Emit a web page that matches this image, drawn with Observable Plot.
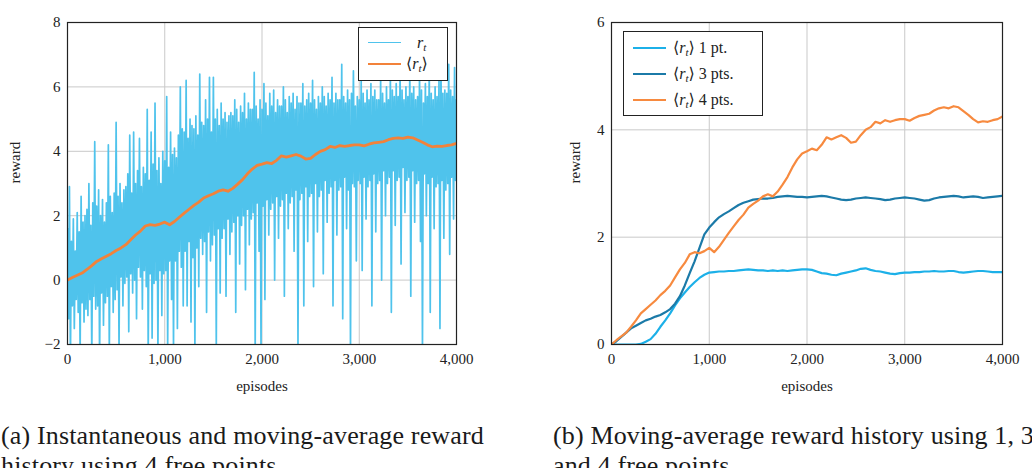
<!DOCTYPE html>
<html>
<head>
<meta charset="utf-8">
<script src="https://cdn.jsdelivr.net/npm/d3@7"></script>
<script src="https://cdn.jsdelivr.net/npm/@observablehq/plot@0.6"></script>
<style>
  html, body { margin: 0; padding: 0; background: #fff; }
  body { width: 1032px; height: 468px; overflow: hidden; position: relative; font-family: "Liberation Serif", "DejaVu Serif", serif; color: #222; }
  .panel { position: absolute; top: 0; width: 516px; height: 400px; }
  .panel svg { font-family: "Liberation Serif", "DejaVu Serif", serif !important; font-size: 15px !important; color: #222; overflow: visible; }
  .panel svg text { font-family: "Liberation Serif", "DejaVu Serif", serif !important; }
  .cap { position: absolute; font-size: 26px; letter-spacing: 0.15px; line-height: 30px; white-space: nowrap; color: #1a1a1a; }
  .legend { position: absolute; border: 1.2px solid #222; background: #fff; box-sizing: border-box; }
  .legend .row { position: absolute; left: 0; height: 20px; width: 100%; }
  .legend .sw { position: absolute; height: 0; }
  .legend .lab { position: absolute; font-size: 16px; line-height: 20px; top: 0; white-space: nowrap; }
  .legend i { font-style: italic; }
  .legend sub { font-size: 11px; vertical-align: -3px; line-height: 0; font-style: italic; }
</style>
</head>
<body>
<div id="pa" class="panel" style="left:0"></div>
<div id="pb" class="panel" style="left:516px"></div>
<div class="cap" style="left:1px; top:421px">(a) Instantaneous and moving-average reward<br>history using 4 free points.</div>
<div class="cap" style="left:553px; top:421px">(b) Moving-average reward history using 1, 3,<br>and 4 free points.</div>
<script>
// ---------- data ----------
const xTicks = [0, 1000, 2000, 3000, 4000];
const yTicksA = [-2, 0, 2, 4, 6, 8];
const yTicksB = [0, 2, 4, 6];

// instantaneous reward r_t, one value every 10 episodes (0 .. 4000)
const rewardInst = [
  1.6,-1.2,2.9,-2.5,1.2,-0.8,1.9,-1.5,0.9,-0.6,
  2.1,-1.0,1.5,-2.3,2.6,-0.7,1.8,-1.3,2.0,-0.9,
  2.2,-1.1,3.0,-0.6,1.7,-2.4,2.4,-0.5,4.3,-0.9,
  2.3,-0.8,2.8,-2.5,2.0,-0.4,2.5,-1.4,1.8,-0.7,
  2.4,-0.5,4.2,-2.3,2.6,-0.2,2.1,-1.0,2.7,-0.6,
  4.9,-0.3,2.6,-2.2,3.0,0.1,2.4,-0.8,2.8,-0.1,
  2.9,0.1,3.3,-1.6,4.5,0.2,2.7,-0.4,4.6,0.0,
  3.0,-1.2,3.4,0.4,4.4,0.1,2.9,-0.9,3.5,0.3,
  3.3,-0.2,5.3,-2.4,3.1,0.2,4.6,-1.8,3.6,-0.1,
  5.5,0.0,3.4,-2.3,3.8,0.3,3.0,-1.1,4.0,0.2,
  3.7,0.3,5.7,-2.2,3.5,0.6,4.6,-0.6,3.9,-2.1,
  4.1,0.6,3.8,-1.5,4.5,0.9,6.0,0.4,4.7,-0.8,
  4.6,0.9,6.2,-0.8,4.4,1.2,5.0,-1.3,4.8,0.7,
  4.7,-2.3,5.1,1.0,4.5,-0.2,6.4,1.3,4.9,0.8,
  4.8,1.2,5.6,-1.0,5.0,1.5,6.3,0.6,4.6,1.1,
  6.3,1.4,5.0,-2.2,5.3,1.6,4.8,-0.4,5.5,1.3,
  5.0,1.6,5.2,-0.5,4.9,1.9,5.1,0.8,5.2,1.5,
  5.1,1.8,5.6,-1.0,5.3,2.0,4.9,0.5,5.4,1.7,
  5.2,2.0,5.8,-0.3,5.0,2.2,5.5,1.1,5.3,1.9,
  5.3,2.1,6.45,-2.3,5.4,2.4,5.0,0.9,5.6,-2.2,
  5.3,2.3,6.1,-0.6,5.5,2.5,5.1,1.4,5.8,2.2,
  5.4,2.4,5.9,0.0,5.2,2.6,5.6,1.3,5.4,2.3,
  5.4,2.5,6.0,-0.5,5.6,2.7,5.2,1.6,5.7,2.4,
  5.5,2.6,5.8,0.9,5.3,2.8,5.7,-2.2,5.5,2.5,
  5.5,2.7,6.1,-0.8,5.4,2.9,5.6,1.2,5.8,2.6,
  5.5,2.7,6.2,-0.2,5.6,3.0,5.3,1.5,5.7,2.6,
  5.5,2.8,6.0,0.2,5.7,3.1,5.4,1.8,5.8,2.7,
  5.6,2.9,6.3,-0.8,5.5,3.1,5.8,1.4,5.6,2.8,
  5.6,2.9,6.7,-1.2,5.7,3.2,5.5,1.6,5.9,2.8,
  5.6,-2.2,5.8,3.0,6.5,2.9,5.4,0.6,5.7,3.1,
  5.6,3.0,6.2,0.3,5.8,3.2,5.5,1.9,5.9,2.9,
  5.6,3.1,6.1,-0.8,5.7,3.3,5.9,1.5,5.6,3.0,
  5.6,3.1,6.3,0.0,5.8,3.4,5.5,2.0,6.0,3.0,
  5.6,3.2,6.4,-1.0,5.9,3.4,5.7,1.7,6.1,3.1,
  5.7,3.2,6.5,0.5,5.9,3.5,5.6,2.1,6.0,3.1,
  5.7,3.2,6.5,-0.5,5.8,3.4,6.0,1.8,5.6,3.0,
  5.7,3.1,6.4,1.2,5.9,-2.2,5.5,3.3,6.1,2.0,
  5.7,3.0,6.6,-1.0,5.8,3.2,5.6,1.6,6.0,2.9,
  5.7,3.0,6.2,-1.5,6.7,3.1,5.8,1.3,5.9,2.8,
  5.8,3.0,6.7,0.8,5.9,3.2,5.7,1.9,6.6,3.1,
  5.6
];

// moving averages, one value every 50 episodes (0 .. 4000)
const avg4pts = [
  0,0.08,0.15,0.22,0.33,0.45,0.58,0.66,0.74,0.82,
  0.92,1.0,1.1,1.25,1.4,1.52,1.68,1.72,1.7,1.74,
  1.8,1.72,1.82,1.95,2.08,2.2,2.32,2.42,2.55,2.62,
  2.68,2.76,2.8,2.76,2.85,2.98,3.12,3.3,3.45,3.56,
  3.6,3.65,3.62,3.72,3.86,3.82,3.86,3.9,3.85,3.76,
  3.78,3.9,4.0,4.05,4.15,4.12,4.18,4.15,4.18,4.2,
  4.2,4.17,4.22,4.26,4.28,4.3,4.36,4.4,4.42,4.4,
  4.44,4.42,4.35,4.28,4.2,4.14,4.16,4.15,4.18,4.2,
  4.25
];
const avg3pts = [
  0,0.06,0.14,0.22,0.3,0.35,0.4,0.45,0.48,0.52,
  0.55,0.6,0.66,0.76,0.9,1.1,1.33,1.55,1.8,2.05,
  2.18,2.28,2.37,2.43,2.48,2.54,2.6,2.64,2.67,2.7,
  2.71,2.72,2.72,2.73,2.75,2.76,2.77,2.76,2.75,2.75,
  2.74,2.75,2.76,2.77,2.76,2.74,2.72,2.70,2.69,2.70,
  2.72,2.73,2.74,2.73,2.72,2.71,2.69,2.70,2.72,2.73,
  2.74,2.73,2.72,2.70,2.68,2.69,2.72,2.74,2.75,2.76,
  2.77,2.76,2.74,2.75,2.76,2.75,2.73,2.74,2.75,2.76,
  2.77
];
const avg1pt = [
  0,0,0,0,0,0,0.01,0.05,0.1,0.2,
  0.33,0.45,0.58,0.73,0.86,0.97,1.07,1.16,1.24,1.3,
  1.34,1.35,1.36,1.36,1.37,1.37,1.38,1.39,1.40,1.39,
  1.38,1.38,1.37,1.38,1.37,1.38,1.37,1.38,1.39,1.40,
  1.40,1.39,1.36,1.33,1.32,1.30,1.29,1.32,1.34,1.36,
  1.38,1.41,1.42,1.39,1.37,1.36,1.34,1.32,1.31,1.33,
  1.34,1.34,1.35,1.35,1.36,1.36,1.37,1.36,1.36,1.37,
  1.37,1.35,1.34,1.35,1.36,1.37,1.37,1.36,1.35,1.35,
  1.35
];

// ---------- styles ----------
const C = { inst: "#4fc3ec", avg: "#f2823a", one: "#1cb0e8", three: "#1b7aa8", four: "#f78a3f", grid: "#c9c9c9", frame: "#222" };
const fontStyle = { fontFamily: "Liberation Serif", fontSize: "15px", color: "#222", background: "transparent", overflow: "visible" };
const fmtInt = d => (d < 0 ? "\u2212" : "") + d3.format(",")(Math.abs(d));

const instData = rewardInst.map((v, i) => ({ ep: i * 10, v }));
const mk = arr => arr.map((v, i) => ({ ep: i * 50, v }));

function gridMarks(yTicks) {
  return [
    Plot.ruleX(xTicks, { stroke: C.grid, strokeWidth: 1 }),
    Plot.ruleY(yTicks, { stroke: C.grid, strokeWidth: 1 })
  ];
}

const plotA = Plot.plot({
  width: 516, height: 400,
  marginLeft: 67, marginRight: 60, marginTop: 22, marginBottom: 56,
  style: fontStyle,
  x: { domain: [0, 4000], ticks: xTicks, tickFormat: fmtInt, tickSize: 0, tickPadding: 9, label: null },
  y: { domain: [-2, 8], ticks: yTicksA, tickFormat: fmtInt, tickSize: 0, tickPadding: 7, label: null },
  marks: [
    ...gridMarks(yTicksA),
    Plot.line(instData, { x: "ep", y: "v", stroke: C.inst, strokeWidth: 1.7, clip: true }),
    Plot.line(mk(avg4pts), { x: "ep", y: "v", stroke: C.avg, strokeWidth: 2.8, clip: true }),
    Plot.frame({ stroke: C.frame, strokeWidth: 1.2 }),
    Plot.text(["episodes"], { frameAnchor: "bottom", dy: 46, fontSize: 15 }),
    Plot.text(["reward"], { frameAnchor: "left", dx: -52, rotate: -90, fontSize: 15 })
  ]
});

const plotB = Plot.plot({
  width: 516, height: 400,
  marginLeft: 95, marginRight: 30, marginTop: 22, marginBottom: 56,
  style: fontStyle,
  x: { domain: [0, 4000], ticks: xTicks, tickFormat: fmtInt, tickSize: 0, tickPadding: 9, label: null },
  y: { domain: [0, 6], ticks: yTicksB, tickFormat: fmtInt, tickSize: 0, tickPadding: 7, label: null },
  marks: [
    ...gridMarks(yTicksB),
    Plot.line(mk(avg1pt), { x: "ep", y: "v", stroke: C.one, strokeWidth: 2.2, clip: true }),
    Plot.line(mk(avg3pts), { x: "ep", y: "v", stroke: C.three, strokeWidth: 2.2, clip: true }),
    Plot.line(mk(avg4pts), { x: "ep", y: "v", stroke: C.four, strokeWidth: 2.2, clip: true }),
    Plot.frame({ stroke: C.frame, strokeWidth: 1.2 }),
    Plot.text(["episodes"], { frameAnchor: "bottom", dy: 46, fontSize: 15 }),
    Plot.text(["reward"], { frameAnchor: "left", dx: -36, rotate: -90, fontSize: 15 })
  ]
});

document.getElementById("pa").appendChild(plotA);
document.getElementById("pb").appendChild(plotB);

// ---------- legends ----------
function legend(parent, box, rows) {
  const lg = document.createElement("div");
  lg.className = "legend";
  Object.assign(lg.style, { left: box.x + "px", top: box.y + "px", width: box.w + "px", height: box.h + "px" });
  rows.forEach(r => {
    const row = document.createElement("div");
    row.className = "row";
    row.style.top = (r.cy - box.y - 10) + "px";
    const sw = document.createElement("div");
    sw.className = "sw";
    Object.assign(sw.style, { left: (box.sx - box.x) + "px", width: box.sw + "px", top: "10px", borderTop: r.w + "px solid " + r.color, marginTop: (-r.w / 2) + "px" });
    const lab = document.createElement("div");
    lab.className = "lab";
    lab.style.left = (r.tx - box.x) + "px";
    lab.innerHTML = r.html;
    row.appendChild(sw); row.appendChild(lab);
    lg.appendChild(row);
  });
  parent.appendChild(lg);
}
const rt = "<i>r</i><sub>t</sub>";
const art = "\u27E8" + rt + "\u27E9";
legend(document.getElementById("pa"), { x: 358, y: 27, w: 90, h: 54, sx: 367, sw: 33 }, [
  { cy: 42, color: C.inst, w: 1.2, html: rt, tx: 416 },
  { cy: 63, color: C.avg, w: 2.8, html: art, tx: 405 }
]);
legend(document.getElementById("pb"), { x: 623 - 516, y: 31, w: 140, h: 85, sx: 632 - 516, sw: 33 }, [
  { cy: 47, color: C.one, w: 2.2, html: art + " 1 pt.", tx: 672 - 516 },
  { cy: 73, color: C.three, w: 2.2, html: art + " 3 pts.", tx: 672 - 516 },
  { cy: 99, color: C.four, w: 2.2, html: art + " 4 pts.", tx: 672 - 516 }
]);
</script>
</body>
</html>
